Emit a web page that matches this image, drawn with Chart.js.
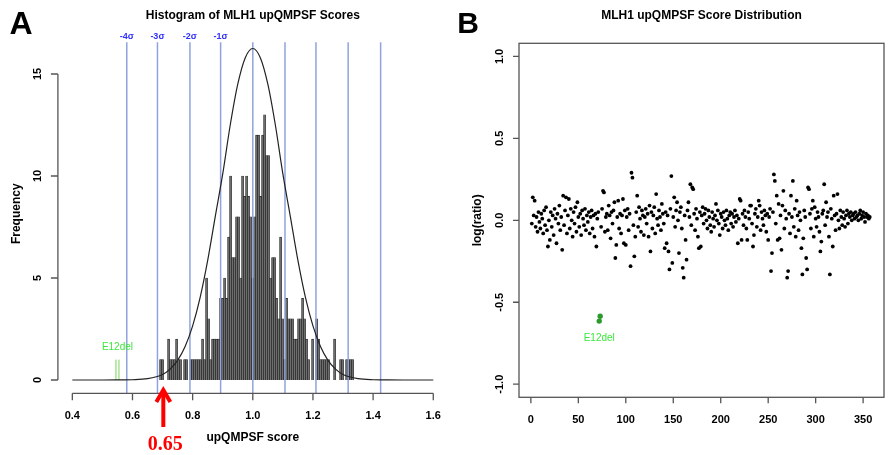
<!DOCTYPE html>
<html>
<head>
<meta charset="utf-8">
<script src="https://cdn.jsdelivr.net/npm/chart.js@4.4.1/dist/chart.umd.min.js"></script>
<style>
  body { margin: 0; background: #fff; }
  #wrap { position: relative; width: 888px; height: 455px; overflow: hidden; }
  canvas { position: absolute; top: 0; }
  #histA { left: 0; }
  #scatB { left: 455px; }
</style>
</head>
<body>
<div id="wrap">
  <canvas id="histA" width="455" height="455"></canvas>
  <canvas id="scatB" width="433" height="455"></canvas>
</div>
<script>
/*********************************
 * DATA - panel A (histogram)    *
 *********************************/
const binStart = 0.69;
const binWidth = 0.00665;
const binCounts = [
  1, 1, 0, 0, 2, 1, 1, 1, 2, 1,
  1, 0, 1, 1, 0, 1, 1, 1, 1, 1,
  1, 2, 1, 5, 3, 1, 2, 2, 2, 2,
  4, 4, 5, 4, 7, 10, 6, 6, 8, 8,
  5, 10, 9, 10, 9, 8, 5, 8, 12, 12,
  9, 12, 13, 11, 11, 5, 6, 6, 4, 3,
  7, 3, 1, 4, 3, 3, 3, 2, 2, 3,
  3, 4, 3, 2, 1, 0, 2, 0, 3, 2,
  1, 1, 1, 1, 1, 0, 0, 2, 0, 0,
  1, 1, 0, 1, 1, 1, 1
];
// fitted normal curve
const curveX = [0.40, 0.50, 0.55, 0.60, 0.65, 0.70, 0.725, 0.75, 0.775, 0.80, 0.825, 0.85, 0.875,
  0.90, 0.925, 0.95, 0.975, 1.00, 1.025, 1.05, 1.075, 1.10, 1.125, 1.15, 1.175, 1.20, 1.225,
  1.25, 1.275, 1.30, 1.35, 1.40, 1.45, 1.50, 1.60];
const curveY = [0, 0, 0.002, 0.011, 0.063, 0.27, 0.53, 0.96, 1.64, 2.65, 4.05, 5.86, 8.0,
  10.1, 12.5, 14.5, 15.8, 16.25, 15.8, 14.5, 12.5, 10.1, 8.0, 5.86, 4.05, 2.65, 1.64,
  0.96, 0.53, 0.27, 0.063, 0.011, 0.002, 0, 0];
const sigmaLines = [0.581, 0.683, 0.791, 0.893, 1.0, 1.107, 1.21, 1.317, 1.425];
const sigmaLabels = ['-4σ', '-3σ', '-2σ', '-1σ'];
const e12delScores = [0.545, 0.555];
const cutoffArrowAt = 0.7025;
const xTicksA = [0.4, 0.6, 0.8, 1.0, 1.2, 1.4, 1.6];
const yTicksA = [0, 5, 10, 15];

/*********************************
 * DATA - panel B (scatter)      *
 *********************************/
const logRatio = [
  -0.02, 0.14, 0.03, 0.12, -0.04, 0.02, -0.07, 0.05, -0.01, -0.05, 0.04, 0.01, -0.08, 0.06, -0.03, 0.08, -0.06, -0.16, 0.00, -0.12,
  0.05, -0.04, 0.03, -0.09, 0.07, 0.01, -0.14, 0.04, -0.02, 0.09, -0.06, 0.02, -0.18, 0.15, -0.03, 0.06, 0.14, -0.08, 0.03, 0.13,
  -0.05, 0.07, 0.00, -0.10, 0.05, -0.02, 0.08, -0.07, 0.11, 0.02, -0.04, 0.04, -0.09, 0.06, 0.01, -0.03, 0.07, -0.06, 0.03, -0.01,
  0.05, -0.08, 0.02, 0.06, -0.05, 0.03, -0.10, 0.04, -0.16, 0.01, 0.05, null, null, -0.04, 0.07, 0.18, 0.17, -0.07, 0.02, 0.04,
  -0.06, 0.09, 0.03, -0.11, 0.05, -0.02, 0.06, 0.11, -0.23, -0.15, 0.02, 0.12, -0.05, 0.04, -0.08, 0.03, 0.13, -0.14, 0.06, -0.15,
  0.02, 0.07, -0.06, 0.04, -0.28, 0.29, 0.26, -0.03, -0.22, -0.10, 0.05, 0.15, -0.04, 0.08, 0.01, -0.07, 0.06, 0.03, -0.09, 0.02,
  0.07, -0.02, 0.04, -0.10, 0.09, -0.19, 0.05, -0.05, 0.03, 0.08, -0.08, 0.16, 0.01, -0.03, 0.06, 0.02, -0.06, 0.10, 0.04, -0.02,
  -0.17, 0.05, -0.14, 0.03, -0.19, -0.30, 0.07, 0.27, -0.26, 0.02, 0.14, -0.04, 0.06, 0.11, 0.00, -0.20, 0.05, 0.08, -0.05, -0.29,
  -0.35, 0.03, -0.12, -0.24, 0.06, 0.11, 0.02, 0.22, -0.03, 0.20, 0.19, 0.04, -0.06, 0.07, 0.01, -0.10, -0.17, 0.05, -0.16, 0.03,
  0.08, -0.02, 0.04, 0.07, 0.00, -0.05, 0.06, 0.02, -0.03, -0.07, 0.05, 0.01, -0.04, 0.03, 0.10, 0.00, 0.06, -0.02, -0.09, 0.04,
  0.02, -0.05, 0.05, 0.00, -0.03, 0.06, 0.01, -0.06, 0.03, 0.05, -0.02, 0.04, -0.04, 0.02, 0.06, -0.01, 0.03, -0.14, 0.01, 0.13,
  0.12, -0.12, 0.04, -0.03, 0.06, 0.02, -0.05, -0.12, 0.05, 0.01, 0.09, 0.09, -0.02, -0.16, -0.09, 0.04, 0.07, -0.04, 0.02, 0.12,
  0.09, -0.06, 0.05, 0.01, -0.03, 0.06, 0.03, -0.07, 0.04, -0.12, 0.02, 0.07, -0.31, -0.20, 0.05, 0.28, 0.24, -0.02, 0.15, -0.12,
  0.10, -0.11, 0.03, -0.18, 0.09, 0.18, -0.05, 0.06, 0.01, -0.35, -0.31, 0.04, -0.08, 0.15, 0.02, 0.24, -0.04, 0.07, -0.10, 0.12,
  0.03, -0.06, 0.05, 0.00, -0.17, -0.33, -0.11, 0.06, 0.02, -0.23, -0.30, 0.20, 0.19, 0.04, -0.05, 0.07, 0.12, -0.10, 0.08, 0.01,
  -0.04, 0.05, 0.02, -0.07, -0.19, -0.13, 0.04, 0.06, 0.22, -0.03, 0.11, 0.02, 0.05, -0.10, -0.33, 0.07, 0.01, -0.16, 0.15, 0.03,
  -0.06, 0.04, 0.16, 0.00, -0.05, 0.06, 0.02, -0.03, 0.05, 0.01, -0.04, 0.03, 0.06, -0.02, 0.04, 0.02, 0.05, 0.00, 0.03, 0.04,
  0.01, 0.05, 0.02, 0.03, 0.00, 0.04, 0.06, 0.01, 0.03, 0.05, 0.02, -0.01, 0.04, 0.02, 0.03, 0.01, 0.02
];
const e12delIndex = [72, 73];
const e12delRatio = [-0.615, -0.585];
const xTicksB = [0, 50, 100, 150, 200, 250, 300, 350];
const yTicksB = [-1.0, -0.5, 0.0, 0.5, 1.0];

/*********************************
 * SHARED                        *
 *********************************/
const sans = "'Liberation Sans', Arial, sans-serif";
Chart.defaults.animation = false;
Chart.defaults.font.family = sans;
Chart.defaults.color = '#000';
const axisColor = '#555';

function rotatedLabel(ctx, text, x, y, font) {
  ctx.save();
  ctx.translate(x, y);
  ctx.rotate(-Math.PI / 2);
  ctx.font = font;
  ctx.textAlign = 'center';
  ctx.textBaseline = 'middle';
  ctx.fillText(text, 0, 0);
  ctx.restore();
}

function vLine(xv, y0, y1, color, width) {
  return {
    type: 'line',
    data: [{x: xv, y: y0}, {x: xv, y: y1}],
    borderColor: color,
    borderWidth: width,
    pointRadius: 0,
    fill: false
  };
}

/*********************************
 * PANEL A                       *
 *********************************/
const histDecor = {
  id: 'histDecor',
  afterDraw(chart) {
    const {ctx, chartArea, scales: {x, y}} = chart;
    ctx.save();
    ctx.strokeStyle = axisColor;
    ctx.lineWidth = 1.3;
    ctx.beginPath();
    const yb = chartArea.bottom;
    ctx.moveTo(x.getPixelForValue(xTicksA[0]), yb);
    ctx.lineTo(x.getPixelForValue(xTicksA[xTicksA.length - 1]), yb);
    xTicksA.forEach(v => {
      const px = x.getPixelForValue(v);
      ctx.moveTo(px, yb);
      ctx.lineTo(px, yb + 7);
    });
    const xl = chartArea.left;
    ctx.moveTo(xl, y.getPixelForValue(yTicksA[0]));
    ctx.lineTo(xl, y.getPixelForValue(yTicksA[yTicksA.length - 1]));
    yTicksA.forEach(v => {
      const py = y.getPixelForValue(v);
      ctx.moveTo(xl, py);
      ctx.lineTo(xl - 7, py);
    });
    ctx.stroke();

    ctx.fillStyle = '#000';
    yTicksA.forEach(v => rotatedLabel(ctx, String(v), 38, y.getPixelForValue(v), 'bold 11px ' + sans));

    // sigma labels
    ctx.fillStyle = '#3030ff';
    ctx.font = 'bold 9px ' + sans;
    ctx.textAlign = 'center';
    ctx.textBaseline = 'middle';
    sigmaLabels.forEach((t, i) => ctx.fillText(t, x.getPixelForValue(sigmaLines[i]), y.getPixelForValue(16.86)));

    // E12del
    ctx.fillStyle = '#3ce83c';
    ctx.font = '10px ' + sans;
    ctx.fillText('E12del', x.getPixelForValue(0.55), y.getPixelForValue(1.62));

    // red cutoff arrow
    const ax = x.getPixelForValue(cutoffArrowAt);
    ctx.strokeStyle = '#ff0000';
    ctx.lineWidth = 4;
    ctx.lineCap = 'butt';
    ctx.beginPath();
    ctx.moveTo(ax, 427);
    ctx.lineTo(ax, 391);
    ctx.stroke();
    ctx.lineJoin = 'miter';
    ctx.beginPath();
    ctx.moveTo(ax - 7, 402);
    ctx.lineTo(ax, 390);
    ctx.lineTo(ax + 7, 402);
    ctx.stroke();
    ctx.fillStyle = '#ff0000';
    ctx.font = "bold 20px 'Liberation Serif', 'Times New Roman', serif";
    ctx.fillText('0.65', ax + 2, 445);

    ctx.fillStyle = '#000';
    ctx.font = 'bold 32px ' + sans;
    ctx.fillText('A', 21, 25);
    ctx.restore();
  }
};

const histDatasets = [
  {
    type: 'line',
    data: curveX.map((v, i) => ({x: v, y: curveY[i]})),
    borderColor: '#222',
    borderWidth: 1.2,
    pointRadius: 0,
    cubicInterpolationMode: 'monotone',
    fill: false
  },
  ...sigmaLines.map(v => vLine(v, -0.65, 16.55, '#8fa3de', 1.5)),
  ...e12delScores.map(v => vLine(v, 0, 1, '#7ad65a', 1)),
  {
    type: 'bar',
    data: binCounts.map((c, i) => ({x: binStart + (i + 0.5) * binWidth, y: c})),
    backgroundColor: '#6e6e6e',
    borderColor: '#1a1a1a',
    borderWidth: 0.6,
    barPercentage: 1,
    categoryPercentage: 1
  }
];

let histChart = new Chart(document.getElementById('histA'), {
  type: 'bar',
  data: {datasets: histDatasets},
  options: {
    responsive: false,
    layout: {padding: {left: 0, right: 7.3, top: 0, bottom: 0}},
    plugins: {
      legend: {display: false},
      tooltip: {enabled: false},
      title: {
        display: true,
        text: 'Histogram of MLH1 upQMPSF Scores',
        fullSize: false,
        font: {size: 12, weight: 'bold'},
        padding: {top: 8, bottom: 11.8}
      }
    },
    scales: {
      x: {
        type: 'linear',
        min: 0.352,
        max: 1.648,
        offset: false,
        grid: {display: false},
        border: {display: false},
        afterBuildTicks: s => { s.ticks = xTicksA.map(v => ({value: v})); },
        afterFit: s => { s.height = 61.7; },
        ticks: {
          padding: 8,
          maxRotation: 0,
          font: {size: 11, weight: 'bold'},
          callback: v => v.toFixed(1)
        },
        title: {
          display: true,
          text: 'upQMPSF score',
          font: {size: 12, weight: 'bold'},
          padding: {top: 0, bottom: 9.8}
        }
      },
      y: {
        min: -0.652,
        max: 16.95,
        grid: {display: false},
        border: {display: false},
        afterBuildTicks: s => { s.ticks = yTicksA.map(v => ({value: v})); },
        afterFit: s => { s.width = 57.9; },
        ticks: {display: false},
        title: {
          display: true,
          text: 'Frequency',
          font: {size: 12, weight: 'bold'},
          padding: {top: 9, bottom: 0}
        }
      }
    }
  },
  plugins: [histDecor]
});

/*********************************
 * PANEL B                       *
 *********************************/
const scatDecor = {
  id: 'scatDecor',
  afterDraw(chart) {
    const {ctx, chartArea, scales: {x, y}} = chart;
    ctx.save();
    ctx.strokeStyle = axisColor;
    ctx.lineWidth = 1.3;
    ctx.strokeRect(chartArea.left, chartArea.top, chartArea.right - chartArea.left, chartArea.bottom - chartArea.top);
    ctx.beginPath();
    xTicksB.forEach(v => {
      const px = x.getPixelForValue(v);
      ctx.moveTo(px, chartArea.bottom);
      ctx.lineTo(px, chartArea.bottom + 6);
    });
    yTicksB.forEach(v => {
      const py = y.getPixelForValue(v);
      ctx.moveTo(chartArea.left, py);
      ctx.lineTo(chartArea.left - 6, py);
    });
    ctx.stroke();

    ctx.fillStyle = '#000';
    yTicksB.forEach(v => rotatedLabel(ctx, v.toFixed(1), 45, y.getPixelForValue(v), 'bold 11px ' + sans));

    ctx.fillStyle = '#3ce83c';
    ctx.font = '10px ' + sans;
    ctx.textAlign = 'center';
    ctx.textBaseline = 'middle';
    ctx.fillText('E12del', x.getPixelForValue(72), y.getPixelForValue(-0.718));

    ctx.fillStyle = '#000';
    ctx.font = 'bold 30px ' + sans;
    ctx.fillText('B', 13, 25);
    ctx.restore();
  }
};

const scatPoints = logRatio
  .map((v, i) => ({x: i + 1, y: v}))
  .filter(p => p.y !== null);

let scatChart = new Chart(document.getElementById('scatB'), {
  type: 'scatter',
  data: {
    datasets: [
      {
        data: e12delIndex.map((v, i) => ({x: v, y: e12delRatio[i]})),
        backgroundColor: '#2a9a2a',
        borderWidth: 0,
        pointRadius: 2.7
      },
      {
        data: scatPoints,
        backgroundColor: '#000',
        borderWidth: 0,
        pointRadius: 1.9
      }
    ]
  },
  options: {
    responsive: false,
    layout: {padding: {left: 0, right: 1, top: 0, bottom: 0}},
    plugins: {
      legend: {display: false},
      tooltip: {enabled: false},
      title: {
        display: true,
        text: 'MLH1 upQMPSF Score Distribution',
        fullSize: false,
        font: {size: 12, weight: 'bold'},
        padding: {top: 8, bottom: 20.9}
      }
    },
    scales: {
      x: {
        type: 'linear',
        min: -12.5,
        max: 372,
        grid: {display: false},
        border: {display: false},
        afterBuildTicks: s => { s.ticks = xTicksB.map(v => ({value: v})); },
        afterFit: s => { s.height = 57.7; },
        ticks: {
          padding: 8,
          maxRotation: 0,
          font: {size: 11, weight: 'bold'}
        }
      },
      y: {
        min: -1.08,
        max: 1.08,
        grid: {display: false},
        border: {display: false},
        afterBuildTicks: s => { s.ticks = yTicksB.map(v => ({value: v})); },
        afterFit: s => { s.width = 64; },
        ticks: {display: false},
        title: {
          display: true,
          text: 'log(ratio)',
          font: {size: 12, weight: 'bold'},
          padding: {top: 15.8, bottom: 0}
        }
      }
    }
  },
  plugins: [scatDecor]
});
</script>
</body>
</html>
